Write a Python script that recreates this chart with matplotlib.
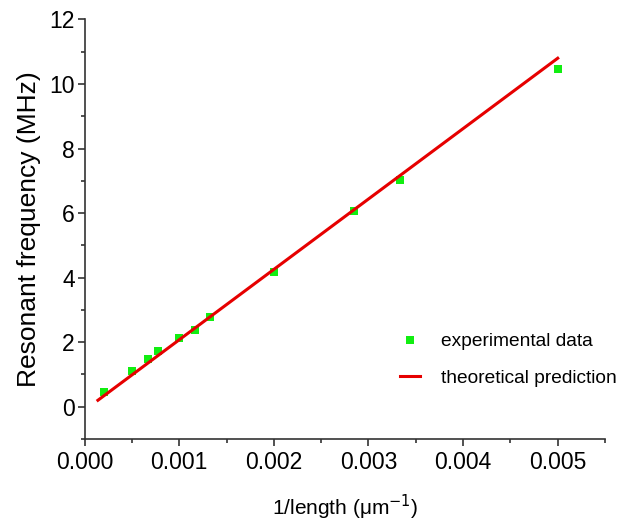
import numpy as np
import matplotlib
matplotlib.use('Agg')
import matplotlib.pyplot as plt
from matplotlib.ticker import MultipleLocator, FormatStrFormatter

plt.rcParams['font.family'] = ['Liberation Sans', 'DejaVu Sans']

# ── Data ─────────────────────────────────────────────────────────────────────
inv_length = [0.0002, 0.0005, 0.00067, 0.00077, 0.0010, 0.00117,
              0.00133, 0.0020, 0.00285, 0.00333, 0.0050]
freq_exp   = [0.45, 1.10, 1.47, 1.72, 2.14, 2.38,
              2.78, 4.18, 6.07, 7.02, 10.48]

theory_x = [0.00014, 0.0050]
theory_y = [0.20, 10.80]

# ── Plot ─────────────────────────────────────────────────────────────────────
fig = plt.figure(figsize=(6.18, 5.27), dpi=100)
ax = fig.add_axes([0.137, 0.167, 0.842, 0.796])

ax.plot(inv_length, freq_exp, linestyle='none', marker='s', markersize=6.0,
        color='#11ee11', markeredgewidth=0, label='experimental data', zorder=2)
ax.plot(theory_x, theory_y, color='#e60000', linewidth=2.2,
        label='theoretical prediction', zorder=3)

ax.set_xlim(0, 0.0055)
ax.set_ylim(-1, 12)
ax.xaxis.set_major_locator(MultipleLocator(0.001))
ax.xaxis.set_minor_locator(MultipleLocator(0.0005))
ax.yaxis.set_major_locator(MultipleLocator(2))
ax.yaxis.set_minor_locator(MultipleLocator(1))
ax.xaxis.set_major_formatter(FormatStrFormatter('%.3f'))

for side in ('top', 'right'):
    ax.spines[side].set_visible(False)
for side in ('left', 'bottom'):
    ax.spines[side].set_linewidth(1.2)
    ax.spines[side].set_color('#333333')

ax.tick_params(which='major', direction='out', length=5, width=1.2,
               labelsize=16.5, colors='#333333', labelcolor='black')
ax.tick_params(axis='x', which='major', pad=3.5)
ax.tick_params(axis='y', which='major', pad=2)
ax.tick_params(which='minor', direction='out', length=3, width=1.2,
               colors='#333333')

ax.set_xlabel('1/length (μm$^{-1}$)', fontsize=15, labelpad=14)
ax.set_ylabel('Resonant frequency (MHz)', fontsize=19, labelpad=6)

ax.legend(loc='upper left', bbox_to_anchor=(0.606, 0.253), frameon=False,
          fontsize=13.8, labelspacing=1.0, handlelength=1.05,
          handletextpad=1.1, borderpad=0, borderaxespad=0)

fig.savefig('out.png', dpi=100)
